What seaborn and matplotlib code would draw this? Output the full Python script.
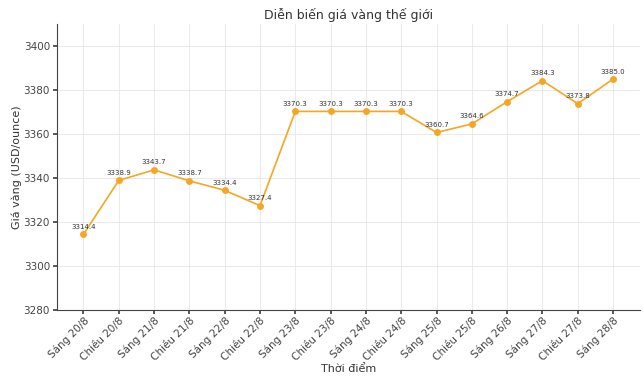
import matplotlib
matplotlib.use("Agg")
import matplotlib.pyplot as plt
import seaborn as sns
import pandas as pd

labels = ["Sáng 20/8", "Chiều 20/8", "Sáng 21/8", "Chiều 21/8", "Sáng 22/8", "Chiều 22/8",
          "Sáng 23/8", "Chiều 23/8", "Sáng 24/8", "Chiều 24/8", "Sáng 25/8", "Chiều 25/8",
          "Sáng 26/8", "Sáng 27/8", "Chiều 27/8", "Sáng 28/8"]
prices = [3314.4, 3338.9, 3343.7, 3338.7, 3334.4, 3327.4, 3370.3, 3370.3, 3370.3, 3370.3,
          3360.7, 3364.6, 3374.7, 3384.3, 3373.8, 3385.0]
yticks = [3280, 3300, 3320, 3340, 3360, 3380, 3400]

sns.set_theme(style="whitegrid", rc={
    "xtick.bottom": True, "ytick.left": True,
    "axes.edgecolor": "#444444", "grid.color": "#e6e6e6", "grid.linewidth": 0.6,
    "xtick.color": "#444444", "ytick.color": "#444444",
    "xtick.major.size": 3, "ytick.major.size": 3,
})
plt.rcParams["font.family"] = ["DejaVu Sans"]

df = pd.DataFrame({"t": labels, "p": prices})
fig = plt.figure(figsize=(6.43, 3.77), dpi=100)
ax = fig.add_axes([0.0886, 0.178, 0.906, 0.758])
sns.lineplot(data=df, x="t", y="p", ax=ax, color="#F5A623", marker="o",
             markersize=5, markeredgewidth=0, linewidth=1.2, sort=False)
for i, v in enumerate(prices):
    ax.annotate(f"{v:.1f}", (i, v), textcoords="offset points", xytext=(0, 4),
                ha="center", fontsize=5, color="#333333")
ax.set_ylim(3280, 3410)
ax.set_yticks(yticks)
ax.set_xlim(-0.75, len(labels) - 0.25)
ax.tick_params(axis="x", labelrotation=45, labelsize=7.5, pad=1)
ax.tick_params(axis="y", labelsize=7.5, pad=2)
for lab in ax.get_xticklabels():
    lab.set_ha("right")
    lab.set_rotation_mode("anchor")
ax.set_xlabel("Thời điểm", fontsize=8, color="#333333", labelpad=1)
ax.set_ylabel("Giá vàng (USD/ounce)", fontsize=8, color="#333333", labelpad=1)
ax.set_title("Diễn biến giá vàng thế giới", fontsize=9, color="#333333", pad=4)
sns.despine(ax=ax)
ax.spines["left"].set_linewidth(0.8)
ax.spines["bottom"].set_linewidth(0.8)
fig.savefig("out.png", dpi=100)
